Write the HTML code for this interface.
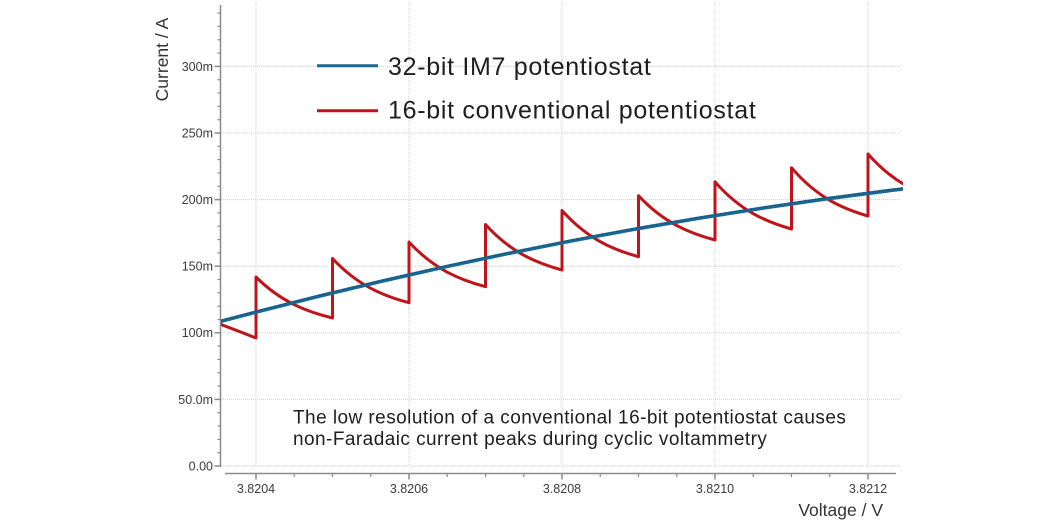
<!DOCTYPE html>
<html>
<head>
<meta charset="utf-8">
<style>
  html, body { margin: 0; padding: 0; background: #ffffff; }
  body { width: 1052px; height: 526px; overflow: hidden; }
  svg { display: block; }
  text { font-family: "Liberation Sans", "DejaVu Sans", sans-serif; }
</style>
</head>
<body>
<svg width="1052" height="526" viewBox="0 0 1052 526" xmlns="http://www.w3.org/2000/svg">
  <defs>
    <clipPath id="plot">
      <rect x="221" y="0" width="682" height="470"/>
    </clipPath>
  </defs>
  <rect x="0" y="0" width="1052" height="526" fill="#ffffff"/>

  <!-- Grid lines -->
  <g stroke="#cfcfcf" stroke-width="1" stroke-dasharray="1 1" fill="none">
    <line x1="221" y1="466" x2="901" y2="466"/>
    <line x1="221" y1="399.4" x2="901" y2="399.4"/>
    <line x1="221" y1="332.8" x2="901" y2="332.8"/>
    <line x1="221" y1="266.2" x2="901" y2="266.2"/>
    <line x1="221" y1="199.6" x2="901" y2="199.6"/>
    <line x1="221" y1="133" x2="901" y2="133"/>
    <line x1="221" y1="66.4" x2="901" y2="66.4"/>
    <line x1="256" y1="2" x2="256" y2="466"/>
    <line x1="409" y1="2" x2="409" y2="466"/>
    <line x1="562" y1="2" x2="562" y2="466"/>
    <line x1="715" y1="2" x2="715" y2="466"/>
    <line x1="868" y1="2" x2="868" y2="466"/>
  </g>

  <!-- Y axis -->
  <g stroke="#8a8a8a" stroke-width="1.5" fill="none">
    <line x1="220.5" y1="5" x2="220.5" y2="467"/>
    <line x1="214.5" y1="466" x2="220.5" y2="466"/>
    <line x1="214.5" y1="399.4" x2="220.5" y2="399.4"/>
    <line x1="214.5" y1="332.8" x2="220.5" y2="332.8"/>
    <line x1="214.5" y1="266.2" x2="220.5" y2="266.2"/>
    <line x1="214.5" y1="199.6" x2="220.5" y2="199.6"/>
    <line x1="214.5" y1="133" x2="220.5" y2="133"/>
    <line x1="214.5" y1="66.4" x2="220.5" y2="66.4"/>
  </g>
  <g stroke="#8a8a8a" stroke-width="1.2" fill="none">
    <line x1="217.5" y1="452.7" x2="220.5" y2="452.7"/>
    <line x1="217.5" y1="439.4" x2="220.5" y2="439.4"/>
    <line x1="217.5" y1="426" x2="220.5" y2="426"/>
    <line x1="217.5" y1="412.7" x2="220.5" y2="412.7"/>
    <line x1="217.5" y1="386.1" x2="220.5" y2="386.1"/>
    <line x1="217.5" y1="372.8" x2="220.5" y2="372.8"/>
    <line x1="217.5" y1="359.4" x2="220.5" y2="359.4"/>
    <line x1="217.5" y1="346.1" x2="220.5" y2="346.1"/>
    <line x1="217.5" y1="319.5" x2="220.5" y2="319.5"/>
    <line x1="217.5" y1="306.2" x2="220.5" y2="306.2"/>
    <line x1="217.5" y1="292.8" x2="220.5" y2="292.8"/>
    <line x1="217.5" y1="279.5" x2="220.5" y2="279.5"/>
    <line x1="217.5" y1="252.9" x2="220.5" y2="252.9"/>
    <line x1="217.5" y1="239.6" x2="220.5" y2="239.6"/>
    <line x1="217.5" y1="226.2" x2="220.5" y2="226.2"/>
    <line x1="217.5" y1="212.9" x2="220.5" y2="212.9"/>
    <line x1="217.5" y1="186.3" x2="220.5" y2="186.3"/>
    <line x1="217.5" y1="173" x2="220.5" y2="173"/>
    <line x1="217.5" y1="159.6" x2="220.5" y2="159.6"/>
    <line x1="217.5" y1="146.3" x2="220.5" y2="146.3"/>
    <line x1="217.5" y1="119.7" x2="220.5" y2="119.7"/>
    <line x1="217.5" y1="106.4" x2="220.5" y2="106.4"/>
    <line x1="217.5" y1="93" x2="220.5" y2="93"/>
    <line x1="217.5" y1="79.7" x2="220.5" y2="79.7"/>
    <line x1="217.5" y1="53.1" x2="220.5" y2="53.1"/>
    <line x1="217.5" y1="39.8" x2="220.5" y2="39.8"/>
    <line x1="217.5" y1="26.4" x2="220.5" y2="26.4"/>
    <line x1="217.5" y1="13.1" x2="220.5" y2="13.1"/>
  </g>
  <g fill="#3a3a3a" font-size="12.5" text-anchor="end">
    <text x="213" y="470.4">0.00</text>
    <text x="213" y="403.8">50.0m</text>
    <text x="213" y="337.2">100m</text>
    <text x="213" y="270.6">150m</text>
    <text x="213" y="204">200m</text>
    <text x="213" y="137.4">250m</text>
    <text x="213" y="70.8">300m</text>
  </g>
  <text transform="translate(168,59.5) rotate(-90)" text-anchor="middle" font-size="17.5" fill="#333333">Current / A</text>

  <!-- X axis -->
  <g stroke="#8a8a8a" stroke-width="1.5" fill="none">
    <line x1="225" y1="473.5" x2="896" y2="473.5"/>
    <line x1="256" y1="473.5" x2="256" y2="479.5"/>
    <line x1="409" y1="473.5" x2="409" y2="479.5"/>
    <line x1="562" y1="473.5" x2="562" y2="479.5"/>
    <line x1="715" y1="473.5" x2="715" y2="479.5"/>
    <line x1="868" y1="473.5" x2="868" y2="479.5"/>
  </g>
  <g stroke="#8a8a8a" stroke-width="1.2" fill="none">
    <line x1="294.25" y1="473.5" x2="294.25" y2="477"/>
    <line x1="332.5" y1="473.5" x2="332.5" y2="477"/>
    <line x1="370.75" y1="473.5" x2="370.75" y2="477"/>
    <line x1="447.25" y1="473.5" x2="447.25" y2="477"/>
    <line x1="485.5" y1="473.5" x2="485.5" y2="477"/>
    <line x1="523.75" y1="473.5" x2="523.75" y2="477"/>
    <line x1="600.25" y1="473.5" x2="600.25" y2="477"/>
    <line x1="638.5" y1="473.5" x2="638.5" y2="477"/>
    <line x1="676.75" y1="473.5" x2="676.75" y2="477"/>
    <line x1="753.25" y1="473.5" x2="753.25" y2="477"/>
    <line x1="791.5" y1="473.5" x2="791.5" y2="477"/>
    <line x1="829.75" y1="473.5" x2="829.75" y2="477"/>
  </g>
  <g fill="#3a3a3a" font-size="12.5" text-anchor="middle">
    <text x="256" y="493">3.8204</text>
    <text x="409" y="493">3.8206</text>
    <text x="562" y="493">3.8208</text>
    <text x="715" y="493">3.8210</text>
    <text x="868" y="493">3.8212</text>
  </g>
  <text x="883" y="516" text-anchor="end" font-size="17.5" fill="#333333">Voltage / V</text>

  <!-- Series -->
  <g clip-path="url(#plot)" fill="none" stroke-linejoin="round" stroke-linecap="round">
    <path d="M221,324.5 Q238.5,331 256,338 L256,277
             C281.5,302.4 307,311.7 332.5,318 L332.5,258.5
             C358,285.9 383.5,295.9 409,302.7 L409,242
             C434.5,269.7 460,279.9 485.5,286.7 L485.5,224.5
             C511,252.7 536.5,263 562,270 L562,210.5
             C587.5,239.1 613,249.6 638.5,256.7 L638.5,195.7
             C664,223.1 689.5,233.2 715,240 L715,181.8
             C740.5,211 766,221.8 791.5,229 L791.5,167.7
             C817,197.6 842.5,208.6 868,216 L868,154
             C893.5,183.1 919,193.8 944.5,201"
          stroke="#c0141b" stroke-width="3"/>
    <path d="M221,321.3 Q562.5,230.3 903,188.9" stroke="#1b6892" stroke-width="3.6"/>
    <path d="M221,321.3 Q562.5,230.3 903,188.9" stroke="#12577f" stroke-width="1.2" stroke-dasharray="2 3" transform="translate(0,-0.8)"/>
  </g>

  <!-- Legend -->
  <line x1="317" y1="65.7" x2="378" y2="65.7" stroke="#1b6892" stroke-width="3"/>
  <line x1="317" y1="110.7" x2="378" y2="110.7" stroke="#c0141b" stroke-width="3"/>
  <g fill="#1e1e1e" font-size="25" letter-spacing="0.7">
    <text x="388" y="75">32-bit IM7 potentiostat</text>
    <text x="388" y="118.5">16-bit conventional potentiostat</text>
  </g>

  <!-- Annotation -->
  <g fill="#1e1e1e" font-size="19" letter-spacing="0.45">
    <text x="293" y="423.3">The low resolution of a conventional 16-bit potentiostat causes</text>
    <text x="293" y="445">non-Faradaic current peaks during cyclic voltammetry</text>
  </g>
</svg>
</body>
</html>
